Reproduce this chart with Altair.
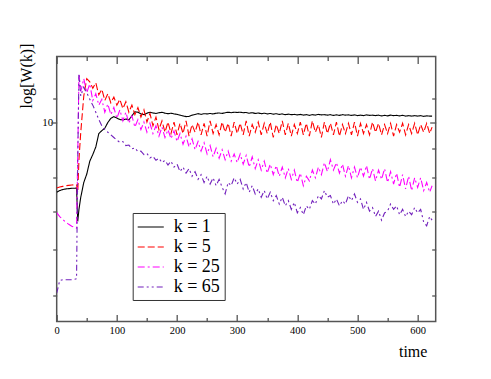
import altair as alt
import pandas as pd

# ---- data ----
TIME = [0, 5, 10, 15, 20, 25, 30, 33, 35, 37,
        40, 45, 50, 55, 60, 65, 70, 75, 80, 85, 90, 95,
        100, 105, 110, 115, 120, 125, 130, 135, 140, 145, 150, 155, 160, 165, 170, 175, 180, 185, 190, 195,
        200, 205, 210, 215, 220, 225, 230, 235, 240, 245, 250, 255, 260, 265, 270, 275, 280, 285, 290, 295,
        300, 305, 310, 315, 320, 325, 330, 335, 340, 345, 350, 355, 360, 365, 370, 375, 380, 385, 390, 395,
        400, 405, 410, 415, 420, 425, 430, 435, 440, 445, 450, 455, 460, 465, 470, 475, 480, 485, 490, 495,
        500, 505, 510, 515, 520, 525, 530, 535, 540, 545, 550, 555, 560, 565, 570, 575, 580, 585, 590, 595,
        600, 605, 610, 615, 620, 624]

K1 = [7.55, 7.60, 7.63, 7.65, 7.66, 7.67, 7.67, 7.68, 6.72, 7.05,
      7.40, 7.85, 8.12, 8.55, 8.78, 9.05, 9.55, 9.66, 9.76, 9.98, 10.15, 10.22,
      10.16, 10.10, 10.08, 10.12, 10.09, 10.25, 10.42, 10.40, 10.33, 10.30, 10.36, 10.40, 10.37, 10.35, 10.38, 10.40, 10.36, 10.34, 10.36, 10.33,
      10.31, 10.28, 10.25, 10.22, 10.23, 10.28, 10.31, 10.34, 10.31, 10.34, 10.33, 10.35, 10.33, 10.36, 10.37, 10.35, 10.38, 10.40, 10.38, 10.40,
      10.39, 10.40, 10.38, 10.39, 10.36, 10.38, 10.35, 10.37, 10.34, 10.36, 10.33, 10.35, 10.32, 10.34, 10.31, 10.33, 10.30, 10.32, 10.30, 10.31,
      10.29, 10.31, 10.28, 10.30, 10.27, 10.30, 10.28, 10.31, 10.29, 10.30, 10.28, 10.30, 10.27, 10.29, 10.27, 10.30, 10.28, 10.29, 10.27, 10.29,
      10.26, 10.28, 10.26, 10.29, 10.27, 10.28, 10.26, 10.28, 10.25, 10.27, 10.25, 10.28, 10.26, 10.27, 10.25, 10.27, 10.24, 10.26, 10.24, 10.26,
      10.24, 10.26, 10.23, 10.25, 10.24, 10.24]

K5 = [7.68, 7.71, 7.73, 7.75, 7.76, 7.77, 7.78, 7.78, 7.55, 8.6,
      9.6, 11.1, 11.9, 11.75, 11.45, 11.7, 11.15, 11.4, 10.9, 11.2, 10.8, 11.05,
      10.7, 10.95, 10.55, 10.85, 10.4, 10.7, 10.3, 10.6, 10.2, 10.5, 10.0, 10.35, 9.85, 10.2, 9.7, 10.05, 9.6, 10.0, 9.55, 10.0,
      9.5, 9.95, 9.55, 10.05, 9.45, 9.9, 9.6, 10.0, 9.5, 9.95, 9.45, 10.05, 9.55, 9.9, 9.5, 10.0, 9.6, 9.95, 9.45, 10.0,
      9.55, 9.95, 9.5, 10.05, 9.45, 9.9, 9.6, 10.0, 9.5, 9.95, 9.55, 10.0, 9.4, 9.9, 9.55, 10.05, 9.5, 9.95, 9.45, 9.9,
      9.55, 10.0, 9.5, 9.95, 9.45, 10.05, 9.6, 9.9, 9.4, 10.0, 9.55, 9.95, 9.5, 10.0, 9.45, 9.9, 9.55, 9.95, 9.5, 10.0,
      9.45, 9.95, 9.55, 9.9, 9.5, 10.0, 9.6, 9.95, 9.5, 9.9, 9.55, 9.95, 9.45, 9.9, 9.6, 9.95, 9.5, 9.9, 9.55, 9.95,
      9.5, 9.9, 9.6, 9.95, 9.55, 9.8]

K25 = [6.96, 6.85, 6.77, 6.70, 6.64, 6.59, 6.56, 6.54, 8.8, 12.1,
       11.3, 11.9, 11.25, 11.65, 10.9, 11.2, 10.7, 10.95, 10.4, 10.75, 10.3, 10.6,
       10.15, 10.5, 10.05, 10.4, 9.95, 10.25, 9.8, 10.1, 9.7, 10.0, 9.6, 9.95, 9.55, 9.85, 9.45, 9.8, 9.4, 9.7, 9.35, 9.65,
       9.25, 9.55, 9.15, 9.45, 9.05, 9.35, 8.95, 9.25, 8.9, 9.2, 8.8, 9.1, 8.7, 9.0, 8.65, 8.95, 8.6, 8.9, 8.55, 8.8,
       8.5, 8.8, 8.45, 8.75, 8.35, 8.7, 8.3, 8.6, 8.25, 8.55, 8.15, 8.45, 8.1, 8.4, 8.05, 8.35, 8.0, 8.3, 7.95, 8.25,
       7.85, 8.15, 7.75, 8.05, 7.9, 8.25, 8.0, 8.35, 8.1, 8.5, 8.2, 8.6, 8.25, 8.5, 8.15, 8.45, 8.05, 8.4, 8.0, 8.35,
       8.0, 8.35, 8.05, 8.4, 7.95, 8.3, 7.9, 8.25, 7.95, 8.3, 7.85, 8.2, 7.8, 8.15, 7.7, 8.1, 7.65, 8.05, 7.6, 8.0,
       7.7, 8.0, 7.6, 7.85, 7.55, 7.75]

K65 = [5.04, 5.30, 5.32, 5.32, 5.32, 5.32, 5.33, 5.34, 8.6, 12.15,
       11.1, 11.5, 11.25, 10.95, 10.7, 10.4, 10.1, 9.85, 9.7, 9.6, 9.5, 9.4,
       9.3, 9.22, 9.25, 9.1, 9.12, 8.98, 9.02, 8.88, 8.9, 8.78, 8.82, 8.66, 8.72, 8.58, 8.65, 8.5, 8.58, 8.42, 8.55, 8.35,
       8.45, 8.2, 8.35, 8.15, 8.3, 8.05, 8.2, 7.95, 8.1, 7.85, 8.05, 7.8, 8.0, 7.75, 7.95, 7.7, 7.5, 7.85, 7.75, 8.0,
       7.8, 7.95, 7.65, 7.85, 7.55, 7.75, 7.5, 7.65, 7.4, 7.6, 7.35, 7.55, 7.3, 7.45, 7.2, 7.4, 7.15, 7.3, 7.05, 7.25,
       6.95, 7.1, 6.9, 7.15, 7.05, 7.3, 7.2, 7.45, 7.35, 7.6, 7.4, 7.45, 7.2, 7.35, 7.15, 7.3, 7.2, 7.45, 7.3, 7.5,
       7.25, 7.35, 7.05, 7.25, 7.0, 7.1, 6.85, 7.0, 6.75, 6.95, 7.0, 7.2, 7.05, 7.15, 6.9, 7.05, 6.85, 7.0, 6.9, 7.1,
       6.95, 7.05, 6.7, 6.6, 6.85, 6.75]

SERIES = ["k = 1", "k = 5", "k = 25", "k = 65"]
COLORS = ["#000000", "#ff0000", "#ff00ff", "#7221bc"]
DASHES = [[1, 0], [7, 3], [7, 3, 2, 3], [6, 3, 2, 3, 2, 3]]

X_MAJOR = [0, 100, 200, 300, 400, 500, 600]
X_TICKS = [0, 50, 100, 150, 200, 250, 300, 350, 400, 450, 500, 550, 600]
Y_TICKS = [5, 6, 7, 8, 9, 10, 11]

for arr in (K1, K5, K25, K65):
    assert len(arr) == len(TIME), len(arr)

rows = []
for name, vals in zip(SERIES, [K1, K5, K25, K65]):
    for t, v in zip(TIME, vals):
        rows.append({"time": t, "W": v, "series": name})
df = pd.DataFrame(rows)

W, H = 379, 265
FONT = "Liberation Serif"

xscale = alt.Scale(domain=[0, 630], nice=False, zero=False)
yscale = alt.Scale(type="log", domain=[4.5, 13], nice=False)

# legend: 18px rows, line sample ~26px long drawn by a custom path
leg = alt.Legend(
    title=None, orient="none", legendX=76, legendY=156.5,
    symbolType="M-1,0L1.9,0", symbolSize=324, symbolStrokeWidth=1.2,
    labelFont=FONT, labelFontSize=18, labelOffset=17, labelColor="black",
    padding=4, rowPadding=1, strokeColor="#333333", fillColor="white",
    labelLimit=0,
)

base = alt.Chart(df)

lines = base.mark_line(strokeWidth=1.1, clip=True).encode(
    x=alt.X("time:Q", scale=xscale, axis=alt.Axis(
        orient="bottom", values=X_MAJOR, ticks=False, domain=False,
        labelFont=FONT, labelColor="black",
        labelPadding=4, labelFontSize=10.5, labelFlush=False, labelOverlap=False,
        title="time", titleFont=FONT, titleColor="black",
        titleX=356, titleY=30, titleAlign="center",
        titleBaseline="middle", titleFontSize=16, titleFontWeight="normal")),
    y=alt.Y("W:Q", scale=yscale, axis=alt.Axis(
        orient="left", values=Y_TICKS, ticks=False, domain=False,
        labelFont=FONT, labelColor="black",
        labelExpr="datum.value == 10 ? '10' : ''", labelPadding=4,
        labelFontSize=11, labelBaseline="middle", labelFlush=False, labelOverlap=False,
        title="log[W(k)]", titleFont=FONT, titleColor="black",
        titleX=-30, titleY=19, titleAlign="center",
        titleBaseline="middle", titleAngle=270, titleFontSize=16,
        titleFontWeight="normal")),
    color=alt.Color("series:N", scale=alt.Scale(domain=SERIES, range=COLORS), legend=leg),
    strokeDash=alt.StrokeDash("series:N", scale=alt.Scale(domain=SERIES, range=DASHES), legend=leg),
)

xtick = {"condition": {"test": "datum.value % 100 === 0", "value": 7}, "value": 4}
ytick = {"condition": {"test": "datum.value === 10", "value": 6}, "value": 4}

# bottom (inward) + left (outward) ticks
ticks_a = base.mark_point(opacity=0, size=1).encode(
    x=alt.X("time:Q", scale=xscale, axis=alt.Axis(
        orient="top", offset=-H, values=X_TICKS, labels=False, domain=False,
        tickSize=xtick, title=None)),
    y=alt.Y("W:Q", scale=yscale, axis=alt.Axis(
        orient="left", values=Y_TICKS, labels=False, domain=False,
        tickSize=ytick, title=None)),
)

# top (inward) + right (inward) ticks
ticks_b = base.mark_point(opacity=0, size=1).encode(
    x=alt.X("time:Q", scale=xscale, axis=alt.Axis(
        orient="bottom", offset=-H, values=X_TICKS, labels=False, domain=False,
        tickSize=xtick, title=None)),
    y=alt.Y("W:Q", scale=yscale, axis=alt.Axis(
        orient="left", offset=-W, values=Y_TICKS, labels=False, domain=False,
        tickSize=ytick, title=None)),
)

chart = alt.layer(lines, ticks_a, ticks_b).resolve_axis(
    x="independent", y="independent"
).properties(
    width=W, height=H,
    autosize=alt.AutoSizeParams(type="none"),
    padding={"left": 48.7, "top": 48.5, "right": 40, "bottom": 50},
    background="white",
).configure_view(
    stroke="#555555", strokeWidth=1.5
).configure_axis(
    tickColor="#555555", tickWidth=1.3, grid=False,
)

chart.save("out.html", embed_options={"renderer": "svg", "actions": False})
